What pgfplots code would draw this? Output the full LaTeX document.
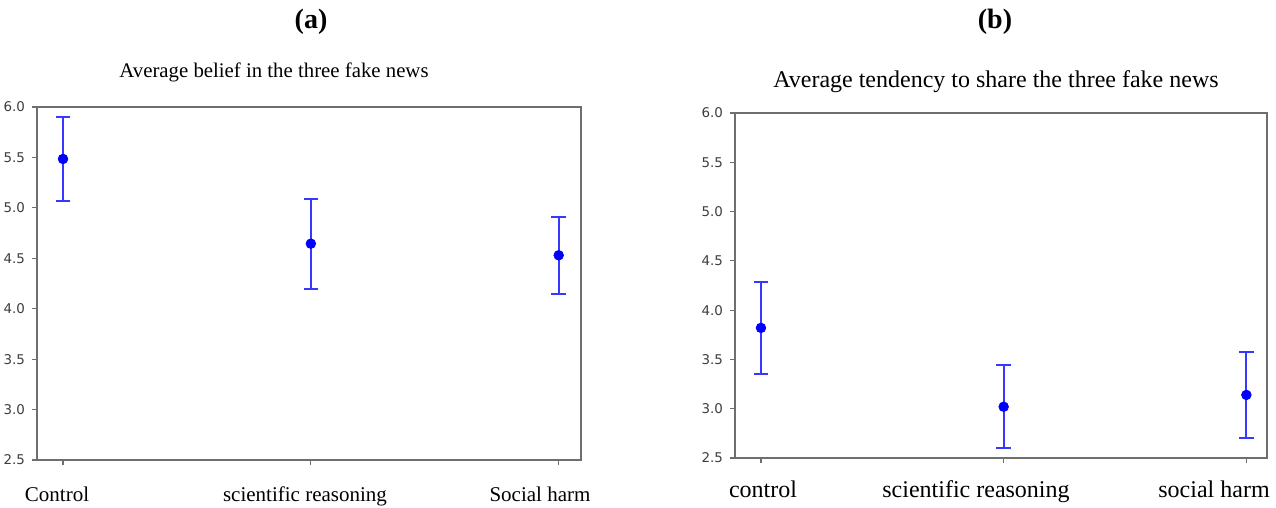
\documentclass[border=0pt]{standalone}
\usepackage{pgfplots}
\pgfplotsset{compat=1.18}
\usepackage{fontspec}
\setmainfont{Liberation Serif}
\newfontfamily\ticksans{DejaVu Sans}

\definecolor{framegray}{RGB}{110,110,110}
\definecolor{ticktext}{RGB}{60,60,60}
\definecolor{barblue}{RGB}{55,55,255}

\pgfplotsset{
  meanci/.style={
    scale only axis,
    ymin=2.5, ymax=6.0,
    xtick={0,1,2}, xticklabels={},
    ytick={2.5,3.0,3.5,4.0,4.5,5.0,5.5,6.0},
    tick align=outside, tick pos=left,
    major tick length=2.5pt,
    axis line style={framegray, line width=0.75pt},
    every tick/.style={framegray, line width=0.6pt},
    yticklabel style={font=\ticksans\fontsize{6.7}{7}\selectfont, text=ticktext,
      /pgf/number format/fixed, /pgf/number format/fixed zerofill,
      /pgf/number format/precision=1, /pgf/number format/assume math mode=true},
  },
  ciplot/.style={
    blue, mark=*, mark size=2.4pt, only marks,
    error bars/.cd, y dir=both, y explicit,
    error bar style={barblue, line width=1.1pt},
    error mark options={rotate=90, barblue, mark size=3.6pt, line width=1.0pt},
  },
}

\begin{document}
\begin{tikzpicture}
\path[use as bounding box] (0,0) rectangle (638pt,-254pt);

% (a)
\node[font=\bfseries\fontsize{14}{16}\selectfont] at (155.5pt,-11pt) {(a)};
\node[font=\fontsize{10.4}{12}\selectfont] at (137pt,-36pt) {Average belief in the three fake news};
\begin{axis}[meanci, at={(18.5pt,-230pt)}, anchor=south west,
    width=272pt, height=176.5pt, xmin=-0.105, xmax=2.09]
\addplot[ciplot] coordinates {
  (0,5.485) +- (0,0.415)
  (1,4.645) +- (0,0.445)
  (2,4.53)  +- (0,0.38)
};
\end{axis}
\node[anchor=base, font=\fontsize{10.5}{12}\selectfont] at (28.5pt,-250.5pt) {Control};
\node[anchor=base, font=\fontsize{10.5}{12}\selectfont] at (152.5pt,-250.5pt) {scientific reasoning};
\node[anchor=base, font=\fontsize{10.5}{12}\selectfont] at (270pt,-250.5pt) {Social harm};

% (b)
\node[font=\bfseries\fontsize{14}{16}\selectfont] at (497.5pt,-11pt) {(b)};
\node[font=\fontsize{12}{14}\selectfont] at (498pt,-41pt) {Average tendency to share the three fake news};
\begin{axis}[meanci, at={(367.5pt,-229pt)}, anchor=south west,
    width=266pt, height=172.5pt, xmin=-0.107, xmax=2.085]
\addplot[ciplot] coordinates {
  (0,3.82) +- (0,0.465)
  (1,3.02) +- (0,0.42)
  (2,3.14) +- (0,0.44)
};
\end{axis}
\node[anchor=base, font=\fontsize{12}{14}\selectfont] at (381.5pt,-248.5pt) {control};
\node[anchor=base, font=\fontsize{12}{14}\selectfont] at (488pt,-248.5pt) {scientific reasoning};
\node[anchor=base, font=\fontsize{12}{14}\selectfont] at (607pt,-248.5pt) {social harm};
\end{tikzpicture}
\end{document}
